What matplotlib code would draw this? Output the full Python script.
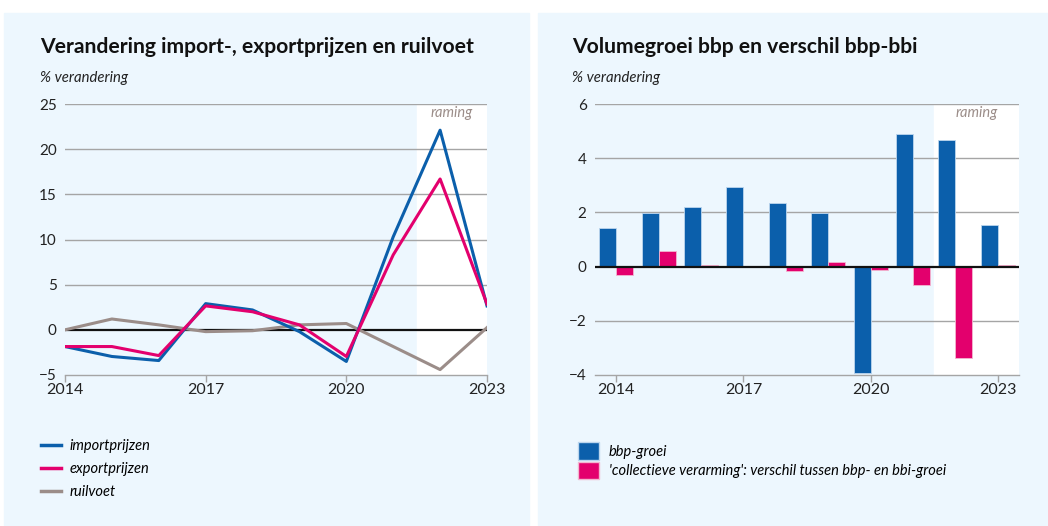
import matplotlib.pyplot as plt
import numpy as np
from matplotlib.patches import Rectangle
from matplotlib.lines import Line2D
from matplotlib.patches import Patch

# ----- Data -----
jaren = [2014, 2015, 2016, 2017, 2018, 2019, 2020, 2021, 2022, 2023]
importprijzen = [-1.85, -2.95, -3.4, 2.9, 2.2, -0.2, -3.5, 10.3, 22.1, 2.65]
exportprijzen = [-1.85, -1.85, -2.85, 2.65, 2.0, 0.55, -2.95, 8.3, 16.7, 2.85]
ruilvoet = [0.0, 1.2, 0.55, -0.2, -0.1, 0.55, 0.7, -1.85, -4.4, 0.25]

bbp_groei = [1.43, 1.96, 2.19, 2.93, 2.36, 1.96, -3.94, 4.89, 4.66, 1.52]
verarming = [-0.3, 0.58, 0.05, 0.0, -0.16, 0.16, -0.12, -0.68, -3.38, 0.06]

xticks = [2014, 2017, 2020, 2023]
raming_start = 2021.5

# ----- Style -----
BLAUW = '#0b5fab'
ROZE = '#e3006d'
GRIJS = '#9b8d89'
PANEEL = '#edf7fe'
GRID = '#a5a5a5'
FONT = 'Lato'
plt.rcParams['font.family'] = FONT

W, H = 1048, 526
fig = plt.figure(figsize=(W / 100, H / 100), dpi=100)
fig.patch.set_facecolor('white')

# achtergrondpanelen
fig.patches.append(Rectangle((4 / W, 1 - 525 / H), 525 / W, 512 / H,
                             transform=fig.transFigure, color=PANEEL, zorder=-10))
fig.patches.append(Rectangle((538 / W, 1 - 525 / H), 510 / W, 512 / H,
                             transform=fig.transFigure, color=PANEEL, zorder=-10))


def ax_box(x0, x1, y_top, y_bot):
    return [x0 / W, 1 - y_bot / H, (x1 - x0) / W, (y_bot - y_top) / H]


def opmaak(ax, ymin, ymax, ystep):
    ax.set_facecolor('none')
    for s in ['left', 'right', 'top']:
        ax.spines[s].set_visible(False)
    ax.spines['bottom'].set_color(GRID)
    ax.spines['bottom'].set_linewidth(1.0)
    ax.set_ylim(ymin, ymax)
    ax.set_yticks(np.arange(ymin, ymax + 0.01, ystep))
    ax.set_xticks(xticks)
    ax.tick_params(axis='y', length=0, pad=6, labelsize=11, labelcolor='#222222')
    ax.tick_params(axis='x', length=5, width=1, color=GRID, pad=1,
                   labelsize=11.5, labelcolor='#222222')
    for yv in np.arange(ymin + ystep, ymax + 0.01, ystep):
        if abs(yv) > 1e-9:
            ax.axhline(yv, color=GRID, lw=1.0, zorder=1)
    ax.axhline(0, color='#111111', lw=1.6, zorder=4)


# ----- Links: lijnen -----
ax1 = fig.add_axes(ax_box(65, 487, 104, 375))
ax1.set_xlim(2014, 2023)
opmaak(ax1, -5, 25, 5)
ax1.axvspan(raming_start, 2023, color='white', zorder=0)
ax1.text((raming_start + 2023) / 2, 24.75, 'raming', ha='center', va='top',
         style='italic', color=GRIJS, fontsize=10.5)
ax1.plot(jaren, ruilvoet, color=GRIJS, lw=2.2, zorder=5, label='ruilvoet')
ax1.plot(jaren, importprijzen, color=BLAUW, lw=2.2, zorder=6, label='importprijzen')
ax1.plot(jaren, exportprijzen, color=ROZE, lw=2.2, zorder=7, label='exportprijzen')

fig.text(40 / W, 1 - 47 / H, 'Verandering import-, exportprijzen en ruilvoet',
         fontsize=15.2, fontweight='bold', va='center', ha='left', color='#111111')
fig.text(40 / W, 1 - 78 / H, '% verandering', fontsize=10.7, style='italic',
         va='center', ha='left', color='#222222')

handles1 = [Line2D([], [], color=BLAUW, lw=2.5),
            Line2D([], [], color=ROZE, lw=2.5),
            Line2D([], [], color=GRIJS, lw=2.5)]
fig.legend(handles1, ['importprijzen', 'exportprijzen', 'ruilvoet'],
           loc='upper left', bbox_to_anchor=(34 / W, 1 - 432 / H),
           frameon=False, borderpad=0, handlelength=1.35, handletextpad=0.6,
           labelspacing=0.6, prop={'style': 'italic', 'size': 10.5})

# ----- Rechts: staven -----
ax2 = fig.add_axes(ax_box(595, 1019, 104, 375))
ax2.set_xlim(2013.5, 2023.5)
opmaak(ax2, -4, 6, 2)
ax2.axvspan(raming_start, 2023.5, color='white', zorder=0)
ax2.text(2022.5, 5.92, 'raming', ha='center', va='top',
         style='italic', color=GRIJS, fontsize=10.5)
x = np.array(jaren)
ax2.bar(x - 0.2, bbp_groei, width=0.4, color=BLAUW, edgecolor='#bcd6ee',
        linewidth=0.6, zorder=3)
ax2.bar(x + 0.2, verarming, width=0.4, color=ROZE, edgecolor='#f2b6d0',
        linewidth=0.6, zorder=3)

fig.text(572 / W, 1 - 47 / H, 'Volumegroei bbp en verschil bbp-bbi',
         fontsize=15.2, fontweight='bold', va='center', ha='left', color='#111111')
fig.text(572 / W, 1 - 78 / H, '% verandering', fontsize=10.7, style='italic',
         va='center', ha='left', color='#222222')

handles2 = [Patch(facecolor=BLAUW, edgecolor='#bcd6ee'),
            Patch(facecolor=ROZE, edgecolor='#f2b6d0')]
fig.legend(handles2, ['bbp-groei',
                      "'collectieve verarming': verschil tussen bbp- en bbi-groei"],
           loc='upper left', bbox_to_anchor=(571 / W, 1 - 435 / H),
           frameon=False, borderpad=0, handlelength=1.4, handleheight=1.5,
           handletextpad=0.7, labelspacing=0.1,
           prop={'style': 'italic', 'size': 10.5})

fig.savefig('out.png', dpi=100, facecolor='white')
